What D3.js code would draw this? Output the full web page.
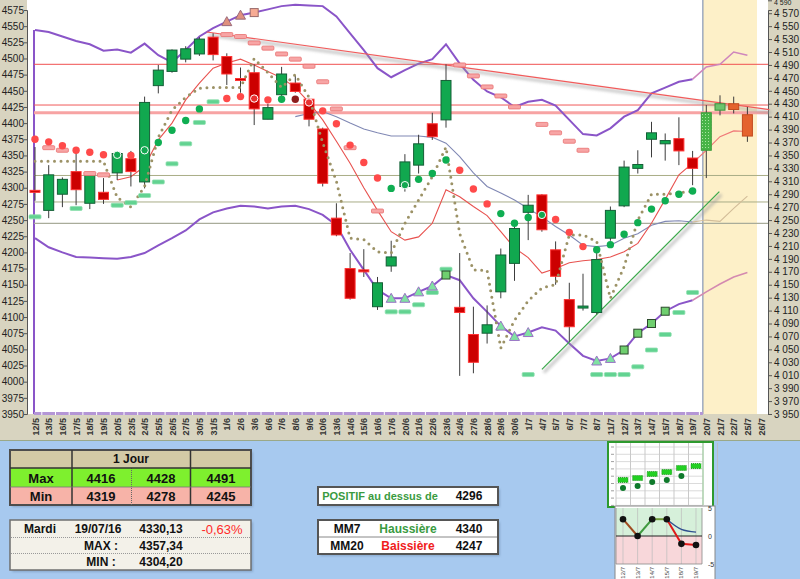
<!DOCTYPE html>
<html><head><meta charset="utf-8">
<script src="https://cdn.jsdelivr.net/npm/d3@7"></script>
<style>body{margin:0;background:#d8d4c0;} svg{display:block;font-family:Arial,"Liberation Sans",sans-serif;}</style>
</head><body><svg id="c" width="800" height="579"></svg>
<script>
const dates = ["12/5","13/5","16/5","17/5","18/5","19/5","20/5","23/5","24/5","25/5","26/5","27/5","30/5","31/5","1/6","2/6","3/6","6/6","7/6","8/6","9/6","10/6","13/6","14/6","15/6","16/6","17/6","20/6","21/6","22/6","23/6","24/6","27/6","28/6","29/6","30/6","1/7","4/7","5/7","6/7","7/7","8/7","11/7","12/7","13/7","14/7","15/7","18/7","19/7","20/7","21/7","22/7","25/7","26/7"];
const open = [4296,4265,4290,4325,4276,4293,4323,4345,4309,4458, 4480,4499,4507,4533,4503,4469,4478,4406,4444,4462, 4437,4391,4253,4175,4173,4116,4179,4302,4335,4399, 4405,4115,4073,4075,4139,4183,4262,4289,4204,4127, 4115,4107,4222,4272,4330,4375,4368,4376,4346,4358, 4420,4430,4413,null];
const close = [4294,4320,4313,4297,4321,4282,4353,4325,4432,4482, 4513,4515,4530,4506,4476,4466,4422,4424,4476,4449, 4406,4307,4227,4129,4171,4153,4193,4340,4368,4379, 4466,4107,4030,4088,4196,4237,4273,4235,4163,4085, 4117,4189,4265,4332,4336,4385,4373,4357,4330,4416, 4430,4421,4380,null];
const high = [4363,4335,4316,4356,4323,4315,4355,4357,4441,4490, 4514,4519,4533,4539,4508,4486,4491,4430,4487,4474, 4439,4393,4276,4199,4205,4162,4218,4352,4382,4416, 4491,4199,4116,4118,4206,4245,4289,4290,4217,4153, 4167,4199,4271,4342,4358,4402,4384,4409,4357,4428, 4443,4441,4425,null];
const low = [4280,4253,4270,4273,4267,4275,4312,4302,4299,4446, 4478,4494,4504,4497,4459,4447,4397,4406,4442,4447, 4395,4302,4225,4127,4162,4111,4170,4294,4322,4374, 4393,4009,4013,4059,4129,4156,4219,4232,4150,4062, 4110,4104,4218,4270,4322,4347,4342,4335,4304,4315, 4412,4415,4371,null];
const bbUp = [4544,4541,4534,4527,4522,4512,4514,4509,4523,4505, 4494,4513,4534,4547,4557,4567,4571,4576,4581,4583, 4582,4581,4565,4539,4513,4485,4471,4482,4492,4499, 4522,4492,4467,4449,4440,4425,4433,4436,4427,4405, 4383,4381,4392,4410,4420,4446,4455,4464,4468,4487, 4491,4510,4505,null];
const bbLo = [4222,4208,4200,4193,4192,4191,4190,4193,4199,4211, 4222,4234,4251,4262,4268,4272,4271,4268,4271,4272, 4267,4258,4242,4204,4173,4142,4129,4129,4139,4148, 4165,4157,4129,4108,4086,4070,4076,4084,4079,4059, 4040,4032,4036,4049,4075,4090,4109,4120,4126,4139, 4151,4162,4169,null];
const mm7 = [null,null,null,null,null,null,4312,4317,4333,4374, 4400,4436,4462,4485,4493,4499,4490,4480,4470,4455, 4432,4405,4372,4338,4300,4265,4232,4219,4224,4245, 4297,4286,4271,4257,4232,4207,4192,4168,4175,4184, 4187,4189,4193,4201,4214,4245,4282,4320,4338,4358, 4379,4388,4387,null];
const mm20 = [null,null,null,null,null,null,null,null,null,null, null,null,null,null,null,null,null,null,null,4410, 4415,4418,4410,4400,4391,4385,4380,4380,4380,4378, 4369,4348,4323,4302,4292,4281,4268,4255,4240,4227, 4211,4209,4211,4222,4229,4242,4248,4249,4247,4250, 4248,4268,4287,null];
const dotted = [4341,4341,4341,4341,4341,4341,4285,4270,4302,4378, 4420,4440,4454,4455,4455,4455,4500,4478,4455,4475, 4440,4370,4310,4222,4220,4201,4199,4245,4281,4317, 4363,4229,4173,4172,4052,4095,4125,4145,4150,4227, 4227,4217,4129,4178,4250,4290,4290,4292,4295,null, null,null,null,null];
// signal dots: value and kind (r red, g green, d dark red, rh/gh outlined)
const dotVal = [4375,4371,4365,4358,4355,4351,4351,4350,4358,4370, 4389,4404,4422,null,4438,4441,4438,4436,4437,4437, 4432,4419,4399,4366,4339,4315,4299,4304,4313,4322, 4343,4327,4298,4275,4260,4245,4254,4258,4251,4231, 4209,4204,4212,4228,4246,4267,4280,4290,4295];
const dotKind = ["r","r","r","r","r","r","gh","r","gh","g", "g","g","g","","r","r","rh","r","g","d", "rh","r","r","r","r","r","g","gh","g","g", "g","r","r","r","g","g","g","gh","r","r", "r","g","g","g","g","g","g","g","g"];
const redDash = [null,4362,4358,null,4322,4320,null,null,null,null, null,null,null,null,4537,4534,4524,4516,4507,4499, 4488,4464,4422,4362,null,4264,null,null,null,null, null,4490,4473,4456,4442,4425,null,4398,4385,4372, 4358];
const greenDash = [4255,null,null,4268,null,null,4273,4277,4288,4309, 4337,4368,4401,4433,null,null,null,null,null,null, null,null,null,null,null,null,4108,4108,4119,4138, 4174,null,null,null,null,null,4011,null,null,null, null,4011,4011,4011,4023,4049,4073,4107,4138];
const loTri = [26,27,28,29,34,35,36,41,42];
const loSq = [30,43,44,45,46];
const upTri = [14,15];
const upSq = [16];
const levelsMax = [4416,4428,4491];
const levelsMin = [4319,4278,4245];
const trendDown = [[12.53,4541],[53.6,4421]];
const trendUp = [[37,4019],[49.95,4294]];
const leftTicks = d3.range(3950,4576,25);
const rightTicks = d3.range(3950,4591,20);
const mini1Bars = [9.6,10.4,12.1,12.9,14.6,15.4];
const mini1Dots = [6.2,7.1,8.8,9.6,11.2];
const mini2Labels = ["12/7","13/7","14/7","15/7","18/7","19/7"];
const mini2Vals = [3,0,3,3,-1.4,-1.6];
const mini2Sig = [null,null,null,3,1.2,0.7];

const svg = d3.select("#c");
const defs = svg.append("defs");
const pat = defs.append("pattern").attr("id","dotpat").attr("width",3).attr("height",3).attr("patternUnits","userSpaceOnUse");
pat.append("rect").attr("width",3).attr("height",3).attr("fill","#47b447");
pat.append("rect").attr("width",1).attr("height",1).attr("fill","#a8e6a0");
defs.append("filter").attr("id","blur").attr("x","-10%").attr("y","-50%").attr("width","120%").attr("height","200%")
  .append("feGaussianBlur").attr("stdDeviation",1.6);
defs.append("filter").attr("id","tshadow").attr("x","-10%").attr("y","-20%").attr("width","130%").attr("height","150%")
  .append("feGaussianBlur").attr("stdDeviation",1.2);

// backgrounds
svg.append("rect").attr("width",800).attr("height",440).attr("fill","#d8d4c0");
svg.append("rect").attr("y",440).attr("width",800).attr("height",139).attr("fill","#a7c9ef");
svg.append("line").attr("x1",0).attr("x2",800).attr("y1",440.5).attr("y2",440.5).attr("stroke","#9aa888");

const x = d3.scaleLinear().domain([0,53]).range([35,761.1]);
const xd = d3.scalePoint().domain(dates).range([35,761.1]);
const y = d3.scaleLinear().domain([3950,4575]).range([414,10]);

svg.append("rect").attr("x",27).attr("y",0).attr("width",741).attr("height",414).attr("fill","#fff");
// forecast zone
svg.append("rect").attr("x",x(48.75)).attr("y",0).attr("width",x(52.7)-x(48.75)).attr("height",414).attr("fill","#fdf0c8");
svg.append("line").attr("x1",x(48.75)).attr("x2",x(48.75)).attr("y1",0).attr("y2",414).attr("stroke","#6d82a8");

// axes
const gl = svg.append("g").attr("transform","translate(27,0)").call(d3.axisLeft(y).tickValues(leftTicks).tickSize(3).tickFormat(d3.format("d")));
gl.select(".domain").attr("stroke","#555");
gl.selectAll("text").attr("font-size",10).attr("fill","#222").attr("x",-3);
gl.selectAll(".tick line").attr("stroke","#555");
const fmtR = d => d3.format(",")(d).replace(","," ");
const gr = svg.append("g").attr("transform","translate(768,0)").call(d3.axisRight(y).tickValues(rightTicks).tickSize(4).tickFormat(fmtR));
gr.select(".domain").attr("stroke","#555");
gr.selectAll("text").attr("font-size",10).attr("fill","#222").attr("x",6);
gr.selectAll(".tick line").attr("stroke","#555");
// keep the topmost label inside the picture (smaller, just under the edge)
gr.selectAll(".tick").filter(d=>d===4590).select("text").attr("font-size",7).attr("dy","0.55em");

// x labels
const gx = svg.append("g").attr("transform","translate(0,414)").call(d3.axisBottom(xd).tickSize(0));
gx.select(".domain").remove();
gx.selectAll("text").attr("font-size",9).attr("font-weight","bold").attr("fill","#333")
  .attr("transform","rotate(-90)").attr("text-anchor","end").attr("x",-4).attr("y",0).attr("dy","0.35em");

// purple frame lines of the band
svg.append("line").attr("x1",34).attr("x2",34).attr("y1",y(bbUp[0])).attr("y2",414).attr("stroke","#8a55c8").attr("stroke-width",2);
svg.append("line").attr("x1",34).attr("x2",x(48.75)).attr("y1",413.5).attr("y2",413.5).attr("stroke","#b496d6").attr("stroke-width",3);
svg.selectAll(".bt").data(dates.slice(0,49)).enter().append("line").attr("x1",(d,i)=>x(i)+6.8).attr("x2",(d,i)=>x(i)+6.8).attr("y1",412).attr("y2",415).attr("stroke","#fff");

// horizontal levels
const hl = (v,c,w) => svg.append("line").attr("x1",34).attr("x2",768).attr("y1",y(v)).attr("y2",y(v)).attr("stroke",c).attr("stroke-width",w);
hl(levelsMax[0],"#f7a3a3",3);
hl(levelsMax[1],"#f05a5a",1);
hl(levelsMax[2],"#f05050",1);
hl(levelsMin[0],"#a9ad86",1);
hl(levelsMin[1],"#a9ad86",1);
hl(levelsMin[2],"#a9ac9a",1.2);

const lineGen = arr => d3.line().defined(d=>d[1]!=null).x(d=>x(d[0])).y(d=>y(d[1]))(arr.map((v,i)=>[i,v]));
const seg = (arr,a,b) => arr.map((v,i)=> (i>=a && i<=b) ? v : null);

// bands
svg.append("path").attr("d",lineGen(seg(bbUp,0,48))).attr("fill","none").attr("stroke","#8a55c8").attr("stroke-width",2);
svg.append("path").attr("d",lineGen(seg(bbLo,0,48))).attr("fill","none").attr("stroke","#8a55c8").attr("stroke-width",2);
svg.append("path").attr("d",lineGen(seg(bbUp,48,52))).attr("fill","none").attr("stroke","#cf86bd").attr("stroke-width",1.6);
svg.append("path").attr("d",lineGen(seg(bbLo,48,52))).attr("fill","none").attr("stroke","#d48ab0").attr("stroke-width",1.6);

// trend lines with shadow
function trend(pts,color){
  const d = d3.line().x(p=>x(p[0])).y(p=>y(p[1]))(pts);
  svg.append("path").attr("d",d).attr("transform","translate(2,3)").attr("stroke","#9a9a9a").attr("stroke-width",3).attr("opacity",0.55).attr("fill","none").attr("filter","url(#blur)");
  svg.append("path").attr("d",d).attr("stroke",color).attr("stroke-width",1.2).attr("fill","none");
}
trend(trendDown,"#f25a5a");
trend(trendUp,"#3aa84a");

// moving averages
svg.append("path").attr("d",lineGen(seg(mm20,0,48))).attr("fill","none").attr("stroke","#8088b4").attr("stroke-width",1.1);
svg.append("path").attr("d",lineGen(seg(mm20,48,52))).attr("fill","none").attr("stroke","#d2bc98").attr("stroke-width",1.1);
svg.append("path").attr("d",lineGen(seg(mm7,0,48))).attr("fill","none").attr("stroke","#e8524f").attr("stroke-width",1.1);
svg.append("path").attr("d",lineGen(seg(mm7,48,52))).attr("fill","none").attr("stroke","#f07878").attr("stroke-width",1.1);

// candles
const cw = 10;
const cg = svg.append("g");
dates.forEach((d,i)=>{
  if(open[i]==null) return;
  const up = close[i] >= open[i];
  const fc = i>=49;
  let fill, stroke;
  if(fc){
    if(i===49){fill="url(#dotpat)";stroke="#3a9a3a";}
    else if(up){fill="#6cc46c";stroke="#3d8f3d";}
    else {fill="#e4632e";stroke="#c24a1e";}
  } else if(up){fill="#11a84f";stroke="#155f37";} else {fill="#cc0000";stroke="#ff3333";}
  cg.append("line").attr("x1",xd(d)).attr("x2",xd(d)).attr("y1",y(high[i])).attr("y2",y(low[i])).attr("stroke","#3c3c3c").attr("stroke-width",1);
  const yt = y(Math.max(open[i],close[i])), yb = y(Math.min(open[i],close[i]));
  cg.append("rect").attr("x",xd(d)-cw/2).attr("y",yt).attr("width",cw).attr("height",Math.max(2,yb-yt)).attr("fill",fill).attr("stroke",stroke).attr("stroke-width",1);
});

// dotted line
svg.append("path").attr("d",lineGen(dotted)).attr("fill","none").attr("stroke","#9c9266").attr("stroke-width",3)
  .attr("stroke-dasharray","0,6.5").attr("stroke-linecap","round");

// dashes
const dashG = svg.append("g");
redDash.forEach((v,i)=>{ if(v==null) return;
  dashG.append("rect").attr("x",x(i)-6).attr("y",y(v)-2).attr("width",12).attr("height",4).attr("rx",1).attr("fill","#f7a5a5").attr("stroke","#e87070").attr("stroke-width",0.8);});
greenDash.forEach((v,i)=>{ if(v==null) return;
  dashG.append("rect").attr("x",x(i)-6).attr("y",y(v)-2).attr("width",12).attr("height",4).attr("rx",1).attr("fill","#62d391").attr("stroke","#8fe0b0").attr("stroke-width",0.8);});

// dots
const dotColors = {r:"#ff4a4a",g:"#0fae52",d:"#8e1b1b",rh:"#e83030",gh:"#12a850"};
dotVal.forEach((v,i)=>{ if(v==null || !dotKind[i]) return;
  const k = dotKind[i];
  svg.append("circle").attr("cx",x(i)).attr("cy",y(v)).attr("r",3.7).attr("fill",dotColors[k])
    .attr("stroke", k.endsWith("h") ? "#fff" : "none").attr("stroke-width",1);});

// band markers
const tri = (cx,cy,f,s) => svg.append("path").attr("d",`M${cx},${cy-5}L${cx+5},${cy+4}L${cx-5},${cy+4}Z`).attr("fill",f).attr("stroke",s).attr("stroke-width",1);
const sq = (cx,cy,f,s) => svg.append("rect").attr("x",cx-4).attr("y",cy-4).attr("width",8).attr("height",8).attr("fill",f).attr("stroke",s).attr("stroke-width",1);
loTri.forEach(i=>tri(x(i),y(bbLo[i]),"#80e2a2","#9a72c6"));
loSq.forEach(i=>sq(x(i),y(bbLo[i]),"#6fcf6f","#2d4a2d"));
upTri.forEach(i=>tri(x(i),y(bbUp[i]),"#e0907e","#9a6a7a"));
upSq.forEach(i=>sq(x(i),y(bbUp[i]),"#f7ab94","#9a6a6a"));

// ---------- bottom panel ----------
function shadowBox(x0,y0,w,h){
  svg.append("rect").attr("x",x0+2).attr("y",y0+2).attr("width",w).attr("height",h).attr("fill","#6a88aa").attr("opacity",0.5).attr("filter","url(#tshadow)");
}
const txt = (tx,ty,t,opts={}) => svg.append("text").attr("x",tx).attr("y",ty).attr("text-anchor",opts.anchor||"middle").attr("dominant-baseline","central")
  .attr("font-size",opts.size||13).attr("font-weight",opts.weight||"bold").attr("fill",opts.fill||"#111").text(t);

// table 1
shadowBox(10,450,241,55);
svg.append("rect").attr("x",10).attr("y",450).attr("width",241).attr("height",18).attr("fill","#d3caa6");
svg.append("rect").attr("x",10).attr("y",468).attr("width",241).attr("height",19).attr("fill","#7ef02e");
svg.append("rect").attr("x",10).attr("y",487).attr("width",241).attr("height",18).attr("fill","#f7b3a8");
svg.append("rect").attr("x",10).attr("y",450).attr("width",241).attr("height",55).attr("fill","none").attr("stroke","#4d4d4d").attr("stroke-width",2);
[[72,450,505],[190.5,450,505]].forEach(l=>svg.append("line").attr("x1",l[0]).attr("x2",l[0]).attr("y1",l[1]).attr("y2",l[2]).attr("stroke","#333").attr("stroke-width",1.5));
svg.append("line").attr("x1",131.5).attr("x2",131.5).attr("y1",468).attr("y2",505).attr("stroke","#666").attr("stroke-dasharray","1,1");
svg.append("line").attr("x1",10).attr("x2",251).attr("y1",468).attr("y2",468).attr("stroke","#333").attr("stroke-width",1.5);
svg.append("line").attr("x1",10).attr("x2",251).attr("y1",487).attr("y2",487).attr("stroke","#777").attr("stroke-width",0.8);
txt(131,459,"1 Jour",{size:12});
txt(41,478,"Max"); txt(41,496,"Min");
txt(101,478,levelsMax[0]); txt(161,478,levelsMax[1]); txt(221,478,levelsMax[2]);
txt(101,496,levelsMin[0]); txt(161,496,levelsMin[1]); txt(221,496,levelsMin[2]);

// table 2
shadowBox(10,520,241,50);
svg.append("rect").attr("x",10).attr("y",520).attr("width",241).attr("height",50).attr("fill","#f3f1e9").attr("stroke","#6f6f6f").attr("stroke-width",1.5);
[537.5,553.5].forEach(yy=>svg.append("line").attr("x1",11).attr("x2",250).attr("y1",yy).attr("y2",yy).attr("stroke","#999").attr("stroke-dasharray","1,1"));
txt(40,529,"Mardi",{size:12}); txt(98,529,"19/07/16",{size:12}); txt(161,529,"4330,13",{size:12}); txt(222,529,"-0,63%",{size:13,fill:"#ff2a2a",weight:"normal"});
txt(101,545.5,"MAX :",{size:12}); txt(161,545.5,"4357,34",{size:12});
txt(101,561.5,"MIN :",{size:12}); txt(161,561.5,"4304,20",{size:12});

// table 3
shadowBox(318,487,180,18);
svg.append("rect").attr("x",318).attr("y",487).attr("width",180).attr("height",18).attr("fill","#fff").attr("stroke","#555").attr("stroke-width",2);
txt(380,496,"POSITIF au dessus de",{size:11,fill:"#3a9b3f"}); txt(469,496,"4296",{size:12});

// table 4
shadowBox(318,520,180,34);
svg.append("rect").attr("x",318).attr("y",520).attr("width",180).attr("height",34).attr("fill","#fff").attr("stroke","#555").attr("stroke-width",2);
svg.append("line").attr("x1",319).attr("x2",497).attr("y1",537).attr("y2",537).attr("stroke","#888");
txt(347,528.5,"MM7",{size:12}); txt(408,528.5,"Haussière",{size:12,fill:"#3a9b3f"}); txt(469,528.5,"4340",{size:12});
txt(347,545.5,"MM20",{size:12}); txt(408,545.5,"Baissière",{size:12,fill:"#f01c1c"}); txt(469,545.5,"4247",{size:12});

// mini chart 1
svg.append("rect").attr("x",608).attr("y",442).attr("width",105).attr("height",65).attr("fill","#fff").attr("stroke","#2e9a2e").attr("stroke-width",2);
const m1x = d3.scalePoint().domain(mini2Labels).range([623,696]);
const m1y = d3.scaleLinear().domain([0,25]).range([503,443]);
d3.range(0,8).forEach(k=>svg.append("line").attr("x1",616+k*14.5).attr("x2",616+k*14.5).attr("y1",443).attr("y2",505).attr("stroke","#bbb").attr("stroke-width",0.8));
d3.range(0,9).forEach(k=>svg.append("line").attr("x1",616).attr("x2",703).attr("y1",447+k*7.3).attr("y2",447+k*7.3).attr("stroke","#ccc").attr("stroke-width",0.7));
d3.range(0,9).forEach(k=>svg.append("line").attr("x1",611).attr("x2",614).attr("y1",447+k*7.3).attr("y2",447+k*7.3).attr("stroke","#777").attr("stroke-width",0.7));
svg.append("line").attr("x1",703).attr("x2",703).attr("y1",443).attr("y2",505).attr("stroke","#9ad09a");
mini1Bars.forEach((v,i)=>svg.append("rect").attr("x",m1x(mini2Labels[i])-5).attr("y",m1y(v)-2.5).attr("width",10).attr("height",5).attr("fill","#22d022").attr("stroke","#178a17").attr("stroke-dasharray","1,1").attr("stroke-width",0.8));
mini1Dots.forEach((v,i)=>svg.append("circle").attr("cx",m1x(mini2Labels[i])).attr("cy",m1y(v)).attr("r",3).attr("fill","#0f7a2c"));

// mini chart 2
svg.append("rect").attr("x",615).attr("y",506).attr("width",100).attr("height",80).attr("fill","#fff").attr("stroke","#888");
const m2y = d3.scaleLinear().domain([-5,5]).range([564,508]);
svg.append("rect").attr("x",616).attr("y",508).attr("width",86).attr("height",m2y(0)-508).attr("fill","#d6f0da");
svg.append("rect").attr("x",616).attr("y",m2y(0)).attr("width",86).attr("height",564-m2y(0)).attr("fill","#f8d7da");
mini2Labels.forEach(l=>svg.append("line").attr("x1",m1x(l)).attr("x2",m1x(l)).attr("y1",508).attr("y2",564).attr("stroke","#bbb").attr("stroke-width",0.7));
[616,702].forEach(xx=>svg.append("line").attr("x1",xx).attr("x2",xx).attr("y1",508).attr("y2",564).attr("stroke","#888").attr("stroke-width",0.8));
svg.append("line").attr("x1",616).attr("x2",702).attr("y1",m2y(0)).attr("y2",m2y(0)).attr("stroke","#222").attr("stroke-width",1.2);
svg.append("line").attr("x1",616).attr("x2",702).attr("y1",564).attr("y2",564).attr("stroke","#888").attr("stroke-width",0.8);
for(let i=1;i<mini2Vals.length;i++){
  const a=mini2Vals[i-1], b=mini2Vals[i];
  const col = b<a ? (b<0?"#e01818":"#a04a20") : (b>a ? "#3f9a3f" : (b>=0?"#6f9a3a":"#e01818"));
  svg.append("line").attr("x1",m1x(mini2Labels[i-1])).attr("x2",m1x(mini2Labels[i])).attr("y1",m2y(a)).attr("y2",m2y(b)).attr("stroke",col).attr("stroke-width",2);
}
svg.append("path").attr("d",d3.line().defined(d=>d[1]!=null).curve(d3.curveMonotoneX).x(d=>m1x(d[0])).y(d=>m2y(d[1]))(mini2Labels.map((l,i)=>[l,mini2Sig[i]]))).attr("fill","none").attr("stroke","#2f4f8f").attr("stroke-width",1.3);
mini2Vals.forEach((v,i)=>svg.append("circle").attr("cx",m1x(mini2Labels[i])).attr("cy",m2y(v)).attr("r",3.3).attr("fill","#111"));
[[5,"5"],[0,"0"],[-5,"-5"]].forEach(p=>svg.append("text").attr("x",708).attr("y",m2y(p[0])).attr("dominant-baseline","central").attr("font-size",7).attr("fill","#333").text(p[1]));
mini2Labels.forEach(l=>svg.append("text").attr("transform",`translate(${m1x(l)+2},567) rotate(-90)`).attr("text-anchor","end").attr("font-size",6).attr("fill","#444").text(l));
</script></body></html>
